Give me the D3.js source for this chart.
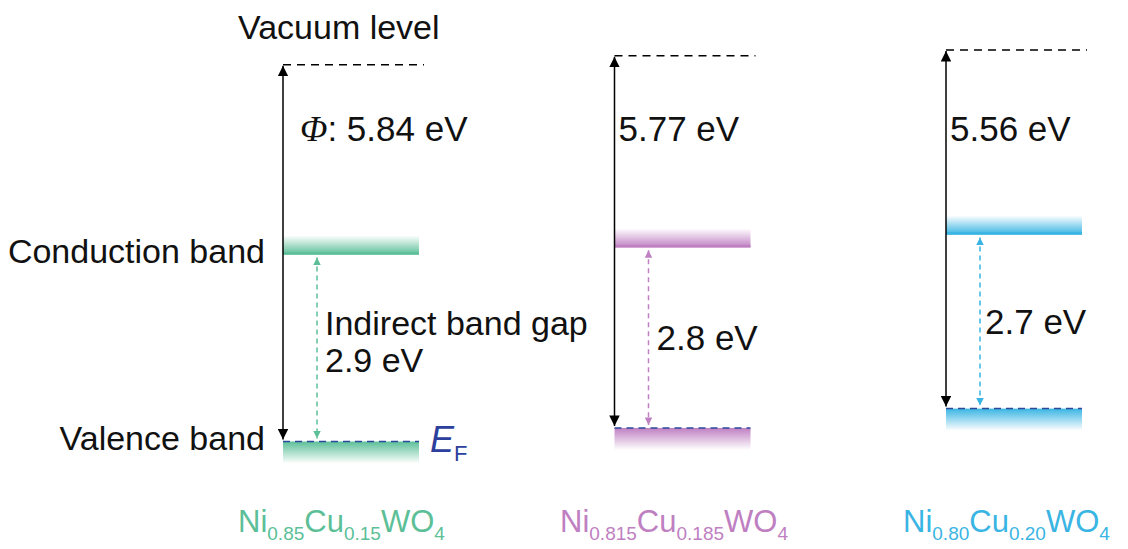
<!DOCTYPE html>
<html><head><meta charset="utf-8">
<script src="https://cdn.jsdelivr.net/npm/d3@7"></script>
<style>body{margin:0;background:#fff}svg{display:block}text{font-family:"Liberation Sans",Arial,sans-serif}</style>
</head><body><svg id="c" width="1128" height="549"></svg>
<script>
// ---- data ----
const compounds = [
  [["Ni",""],["0.85","sub"],["Cu",""],["0.15","sub"],["WO",""],["4","sub"]],
  [["Ni",""],["0.815","sub"],["Cu",""],["0.185","sub"],["WO",""],["4","sub"]],
  [["Ni",""],["0.80","sub"],["Cu",""],["0.20","sub"],["WO",""],["4","sub"]]
];
const workFunction = [5.84, 5.77, 5.56];     // eV
const bandGap = [2.9, 2.8, 2.7];             // eV
const vacuumLevel = [-0.23, -0.09, 0.0];     // schematic vacuum level offsets (eV)
const phiLabels = ["5.84 eV", "5.77 eV", "5.56 eV"];
const gapLabels = [["Indirect band gap", "2.9 eV"], ["2.8 eV"], ["2.7 eV"]];
const colors = ["#5cbf98", "#bf80c2", "#3ab5e3"];

const svg = d3.select("#c");
const x = d3.scaleLinear().domain([0, 2]).range([283, 946]);
const y = d3.scaleLinear().domain([0, -7]).range([50, 50 + 7 * 64.5]);
const bandW = 136;

const panels = workFunction.map((phi, i) => {
  const vac = vacuumLevel[i];
  const ef = vac - phi;
  const cb = ef + bandGap[i];
  return {i, vac, ef, cb, x0: x(i), color: colors[i]};
});

const defs = svg.append("defs");
panels.forEach(p => {
  const g1 = defs.append("linearGradient").attr("id", "cbg" + p.i).attr("x1", 0).attr("x2", 0).attr("y1", 0).attr("y2", 1);
  g1.append("stop").attr("offset", "0%").attr("stop-color", p.color).attr("stop-opacity", 0);
  g1.append("stop").attr("offset", "100%").attr("stop-color", p.color).attr("stop-opacity", 1);
  const g2 = defs.append("linearGradient").attr("id", "vbg" + p.i).attr("x1", 0).attr("x2", 0).attr("y1", 0).attr("y2", 1);
  g2.append("stop").attr("offset", "0%").attr("stop-color", p.color).attr("stop-opacity", 1);
  g2.append("stop").attr("offset", "100%").attr("stop-color", p.color).attr("stop-opacity", 0);
  defs.append("marker").attr("id", "ah" + p.i).attr("viewBox", "0 0 10 10").attr("refX", 10).attr("refY", 5)
    .attr("markerWidth", 5).attr("markerHeight", 5).attr("markerUnits", "strokeWidth").attr("orient", "auto-start-reverse")
    .append("path").attr("d", "M0,0L10,5L0,10Z").attr("fill", p.color);
});
defs.append("marker").attr("id", "ahk").attr("viewBox", "0 0 10 10").attr("refX", 10).attr("refY", 5)
  .attr("markerWidth", 7).attr("markerHeight", 7).attr("markerUnits", "strokeWidth").attr("orient", "auto-start-reverse")
  .append("path").attr("d", "M0,0L10,5L0,10Z").attr("fill", "#000");

panels.forEach(p => {
  const g = svg.append("g");
  // vacuum dashed line
  g.append("line").attr("x1", p.x0).attr("x2", p.x0 + bandW + 5).attr("y1", y(p.vac)).attr("y2", y(p.vac))
    .attr("stroke", "#000").attr("stroke-width", 1.5).attr("stroke-dasharray", "8,6");
  // conduction band
  g.append("rect").attr("x", p.x0).attr("y", y(p.cb) - 19).attr("width", bandW).attr("height", 19).attr("fill", `url(#cbg${p.i})`);
  g.append("line").attr("x1", p.x0).attr("x2", p.x0 + bandW).attr("y1", y(p.cb) - 1).attr("y2", y(p.cb) - 1)
    .attr("stroke", p.color).attr("stroke-width", 2.5);
  // valence band
  g.append("rect").attr("x", p.x0).attr("y", y(p.ef)).attr("width", bandW).attr("height", 22).attr("fill", `url(#vbg${p.i})`);
  // Fermi level dashed
  g.append("line").attr("x1", p.x0).attr("x2", p.x0 + bandW).attr("y1", y(p.ef)).attr("y2", y(p.ef))
    .attr("stroke", "#2c4a9a").attr("stroke-width", 1.5).attr("stroke-dasharray", "7,5");
  // work function arrow
  g.append("line").attr("x1", p.x0).attr("x2", p.x0).attr("y1", y(p.vac) + 1).attr("y2", y(p.ef) - 2)
    .attr("stroke", "#000").attr("stroke-width", 1.5)
    .attr("marker-start", "url(#ahk)").attr("marker-end", "url(#ahk)");
  // band gap arrow
  g.append("line").attr("x1", p.x0 + 34).attr("x2", p.x0 + 34).attr("y1", y(p.cb) + 3).attr("y2", y(p.ef) - 3)
    .attr("stroke", p.color).attr("stroke-width", 1.5).attr("stroke-dasharray", "5,4")
    .attr("marker-start", `url(#ah${p.i})`).attr("marker-end", `url(#ah${p.i})`);
  // phi label
  const t = g.append("text").attr("x", p.x0 + (p.i === 0 ? 17 : 4)).attr("y", 141).attr("font-size", 35).attr("fill", "#111");
  if (p.i === 0) {
    t.append("tspan").attr("font-family", "Liberation Serif, serif").attr("font-style", "italic").attr("font-size", 36).text("Φ");
    t.append("tspan").text(": " + phiLabels[p.i]);
  } else t.text(phiLabels[p.i]);
  // gap labels
  const lines = gapLabels[p.i];
  const mid = (y(p.cb) + y(p.ef)) / 2;
  const lh = 37;
  lines.forEach((s, k) => {
    g.append("text").attr("x", p.x0 + (p.i === 2 ? 39 : 42)).attr("y", mid + 12 + (k - (lines.length - 1) / 2) * lh - (lines.length > 1 ? 6 : 0))
      .attr("font-size", lines.length > 1 ? 34 : 35).attr("fill", "#111").text(s);
  });
  // compound label
  const ct = g.append("text").attr("x", [238, 560, 903][p.i]).attr("y", 532).attr("font-size", 31).attr("fill", p.color);
  compounds[p.i].forEach(([s, kind]) => {
    const ts = ct.append("tspan").text(s);
    if (kind === "sub") ts.attr("font-size", 19).attr("dy", 8);
    else ts.attr("dy", ct.selectAll("tspan").size() > 1 ? -8 : 0);
  });
});

// side labels
svg.append("text").attr("x", 238).attr("y", 39).attr("font-size", 34).attr("fill", "#111").text("Vacuum level");
svg.append("text").attr("x", 265).attr("y", 263).attr("text-anchor", "end").attr("font-size", 34).attr("fill", "#111").text("Conduction band");
svg.append("text").attr("x", 265).attr("y", 450).attr("text-anchor", "end").attr("font-size", 34).attr("fill", "#111").text("Valence band");
const ef = svg.append("text").attr("x", 430).attr("y", 452).attr("fill", "#2c3f9c").attr("font-size", 36);
ef.append("tspan").attr("font-style", "italic").text("E");
ef.append("tspan").attr("font-size", 22).attr("dy", 9).text("F");
</script></body></html>
